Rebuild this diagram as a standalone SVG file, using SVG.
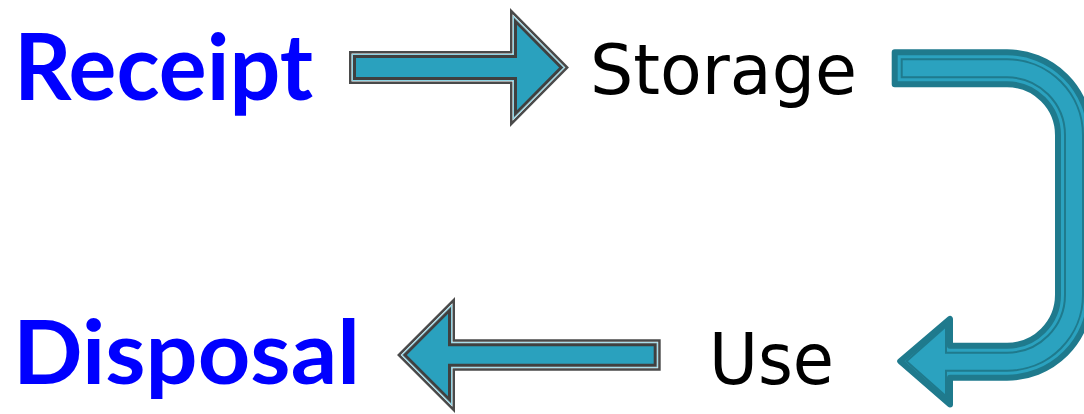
<svg xmlns="http://www.w3.org/2000/svg" width="1084" height="414" viewBox="0 0 1084 414">
<style>
.lbl{font-family:Lato,"DejaVu Sans","Liberation Sans",sans-serif}
.big{font-weight:bold;fill:#0000ff}
.sm{font-family:"DejaVu Sans","Liberation Sans",sans-serif;font-weight:normal;fill:#000000}
.ao{fill:#ffffff;stroke:#4a4a4a;stroke-width:2.5;stroke-linejoin:miter}
.al{fill:none;stroke:#8fd4e4;stroke-width:1.2}
.ai{fill:#2aa1be;stroke:#404040;stroke-width:3;stroke-linejoin:miter}
.uo{fill:#2ba2bf;stroke:#1f7a8d;stroke-width:6;stroke-linejoin:round}
.ui{fill:none;stroke:#1f7a8d;stroke-width:2}
</style>
<rect width="1084" height="414" fill="#ffffff"/>
<g id="connectors">
  <g id="arrow-receipt-storage">
    <path class="ao" d="M350.25,52.25 H511.25 V11 L567.2,67.5 L511.25,124 V82.75 H350.25 Z"/>
    <path class="al" d="M352.5,54.5 H513.5 V16.45 L564.05,67.5 L513.5,118.55 V80.5 H352.5 Z"/>
    <path class="ai" d="M354.5,56.5 H515.5 V21.3 L561.2,67.5 L515.5,113.7 V78.5 H354.5 Z"/>
  </g>
  <g id="arrow-storage-use">
    <path class="uo" d="M894.7,52.3 H1007 A83,83 0 0 1 1090,135.3 V294.7 A83,83 0 0 1 1007,377.7 H950 V404.5 L900.2,361.2 L950,318.9 V345.7 H1007 A51,51 0 0 0 1058,294.7 V135.3 A51,51 0 0 0 1007,84.3 H894.7 Z"/>
    <path class="ui" d="M901.7,59.3 H1007 A76,76 0 0 1 1083,135.3 V294.7 A76,76 0 0 1 1007,370.7 H946 V396.2 L906.5,361.2 L946,326.2 V352.7 H1007 A58,58 0 0 0 1065,294.7 V135.3 A58,58 0 0 0 1007,77.3 H901.7 Z"/>
  </g>
  <g id="arrow-use-disposal">
    <path class="ao" d="M659.45,340.55 H453.75 V300 L398.8,355 L453.75,410 V369.45 H659.45 Z"/>
    <path class="al" d="M657.2,342.8 H451.5 V305.45 L401.95,355 L451.5,404.55 V367.2 H657.2 Z"/>
    <path class="ai" d="M655.2,344.8 H449.5 V310.3 L404.8,355 L449.5,399.7 V365.2 H655.2 Z"/>
  </g>
</g>
<g id="node-receipt"><text class="lbl big" x="14" y="100" font-size="91" textLength="299" lengthAdjust="spacingAndGlyphs">Receipt</text></g>
<g id="node-storage"><text class="sm" x="590" y="94" font-size="69" textLength="267" lengthAdjust="spacingAndGlyphs">Storage</text></g>
<g id="node-use"><text class="sm" x="709" y="384" font-size="72" textLength="125" lengthAdjust="spacingAndGlyphs">Use</text></g>
<g id="node-disposal"><text class="lbl big" x="13" y="384" font-size="88" textLength="347" lengthAdjust="spacingAndGlyphs">Disposal</text></g>
</svg>
